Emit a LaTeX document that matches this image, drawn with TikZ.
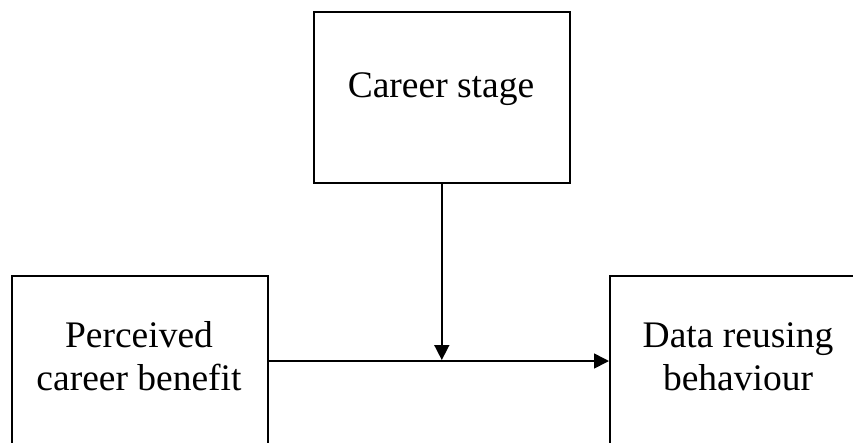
\documentclass[tikz,border=0pt]{standalone}
\usepackage{fontspec}
\setmainfont{Liberation Serif}
\usetikzlibrary{arrows.meta}
\begin{document}
\begin{tikzpicture}[x=1pt,y=-1pt,
  box/.style={draw=black,line width=1.6pt,minimum width=256pt,minimum height=171pt,inner sep=0pt,anchor=north west},
  txt/.style={font=\fontsize{37.5}{43}\selectfont,align=center,inner sep=0pt},
  arr/.style={line width=1.6pt,-{Triangle[length=15pt,width=15pt]}}]
\useasboundingbox (0,0) rectangle (853,442);
\node[box] (stage) at (313,11) {};
\node[box] (benefit) at (11,275) {};
\node[box] (behaviour) at (609,275) {};
\node[txt] (stagetext) at (441,89.5) {Career stage};
\node[txt] (benefittext) at (139,356.5) {Perceived\\career benefit};
\node[txt] (behaviourtext) at (738,356.5) {Data reusing\\behaviour};
\coordinate (meet) at (stage.south |- 0,361);
\draw[arr] (benefit.east |- meet) -- (behaviour.west |- meet);
\draw[arr,shorten >=1pt] (stage.south) -- (meet);
\end{tikzpicture}
\end{document}
